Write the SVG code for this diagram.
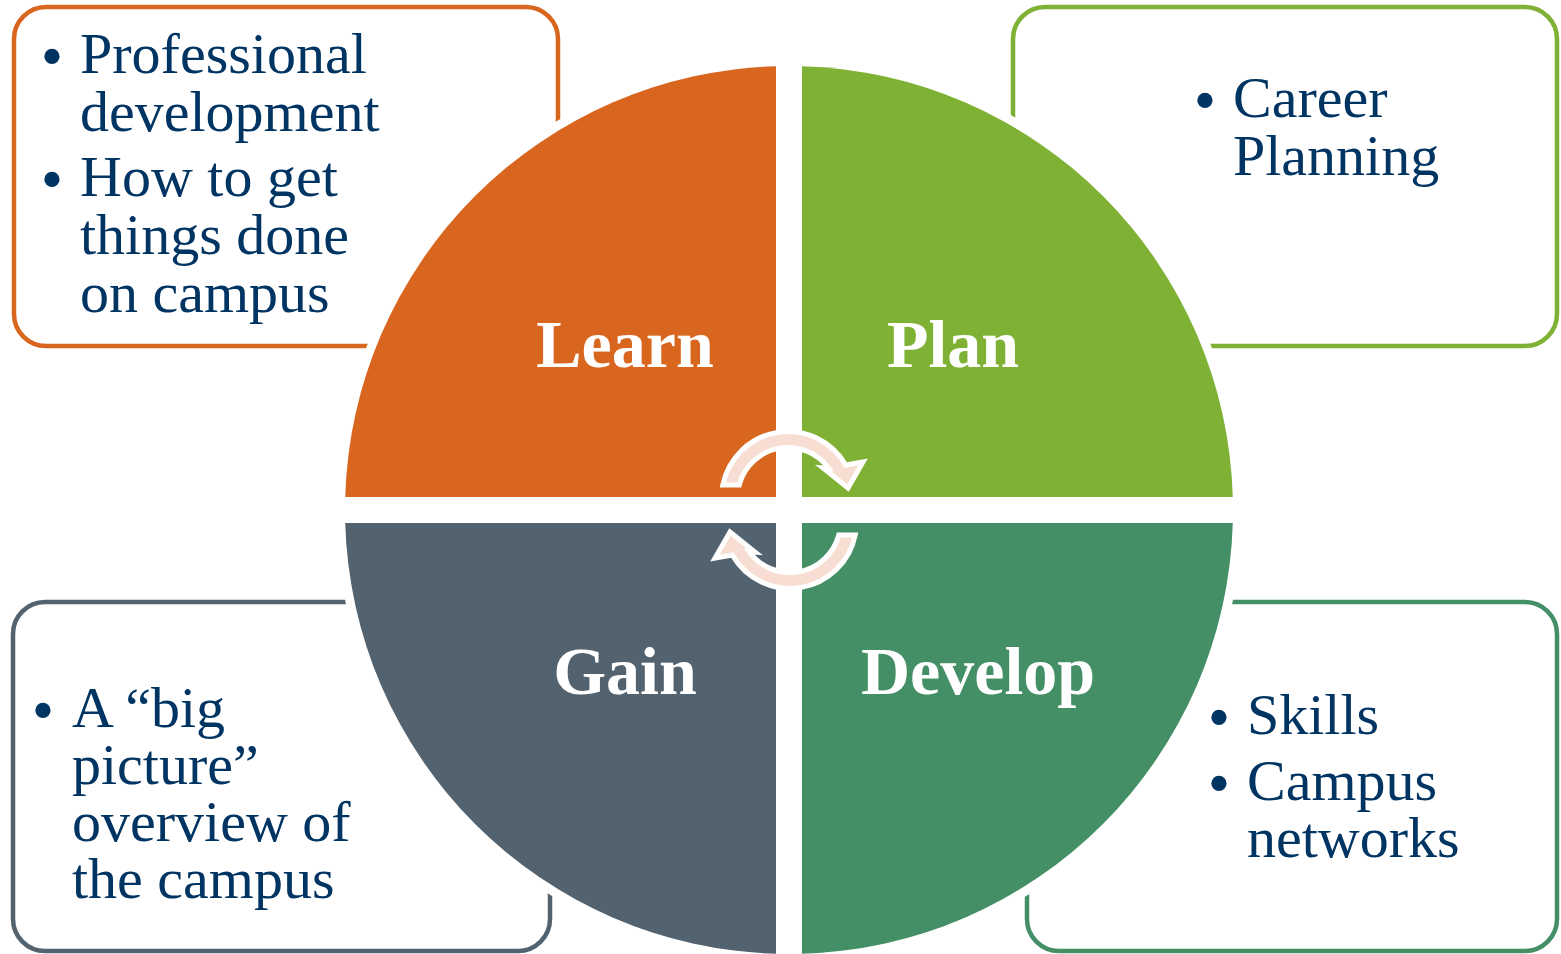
<svg xmlns="http://www.w3.org/2000/svg" width="1561" height="954" viewBox="0 0 1561 954">
<style>
.box{fill:#ffffff;stroke-width:4.5}
.txt{font-family:"Liberation Serif","Times New Roman",serif;font-size:58px;fill:#003462}
.bul{font-family:"Liberation Serif","Times New Roman",serif;font-size:64px;fill:#003462;text-anchor:middle}
.lbl{font-family:"Liberation Serif","Times New Roman",serif;font-size:68px;font-weight:bold;fill:#ffffff;text-anchor:middle}
.arrow{fill:#F8DED2;stroke:#ffffff;stroke-width:5;stroke-linejoin:miter}
</style>
<rect width="1561" height="954" fill="#ffffff"/>
<g id="box-learn"><rect class="box" x="14" y="7" width="544" height="339" rx="32" stroke="#D9661F"/></g>
<g id="box-plan"><rect class="box" x="1013" y="7" width="544" height="339" rx="32" stroke="#7FB135"/></g>
<g id="box-gain"><rect class="box" x="13" y="602" width="537" height="349" rx="32" stroke="#52626F"/></g>
<g id="box-develop"><rect class="box" x="1027" y="602" width="530" height="349" rx="32" stroke="#448F66"/></g>
<circle cx="789" cy="510" r="453" fill="#ffffff"/>
<g id="learn"><path d="M776 497 L776 66.2 A444 444 0 0 0 345.2 497 Z" fill="#D9661F"/><text class="lbl" x="625" y="367">Learn</text></g>
<g id="plan"><path d="M802 497 L802 66.2 A444 444 0 0 1 1232.8 497 Z" fill="#7FB135"/><text class="lbl" x="953" y="367">Plan</text></g>
<g id="gain"><path d="M776 523 L345.2 523 A444 444 0 0 0 776 953.8 Z" fill="#52626F"/><text class="lbl" x="625" y="694">Gain</text></g>
<g id="develop"><path d="M802 523 L802 953.8 A444 444 0 0 0 1232.8 523 Z" fill="#448F66"/><text class="lbl" x="978" y="694">Develop</text></g>
<g id="connectors">
<path id="arrow-top" class="arrow" d="M722.8 485 A66.5 66.5 0 0 1 845.7 465 L863 462 L848 488 L823 468 L829 468.5 A50.5 50.5 0 0 0 739.2 485 Z"/>
<path id="arrow-bottom" class="arrow" transform="rotate(180 789 510)" d="M722.8 485 A66.5 66.5 0 0 1 845.7 465 L863 462 L848 488 L823 468 L829 468.5 A50.5 50.5 0 0 0 739.2 485 Z"/>
</g>
<g id="text-learn">
<text class="bul" x="52" y="78">•</text>
<text class="txt" x="80" y="73">Professional</text>
<text class="txt" x="80" y="131">development</text>
<text class="bul" x="52" y="201">•</text>
<text class="txt" x="80" y="196">How to get</text>
<text class="txt" x="80" y="254">things done</text>
<text class="txt" x="80" y="312">on campus</text>
</g>
<g id="text-plan">
<text class="bul" x="1205" y="122">•</text>
<text class="txt" x="1233" y="117">Career</text>
<text class="txt" x="1233" y="175">Planning</text>
</g>
<g id="text-gain">
<text class="bul" x="43" y="732">•</text>
<text class="txt" x="72" y="727">A “big</text>
<text class="txt" x="72" y="784">picture”</text>
<text class="txt" x="72" y="841">overview of</text>
<text class="txt" x="72" y="898">the campus</text>
</g>
<g id="text-develop">
<text class="bul" x="1219" y="739">•</text>
<text class="txt" x="1247" y="734">Skills</text>
<text class="bul" x="1219" y="805">•</text>
<text class="txt" x="1247" y="800">Campus</text>
<text class="txt" x="1247" y="857">networks</text>
</g>
</svg>
